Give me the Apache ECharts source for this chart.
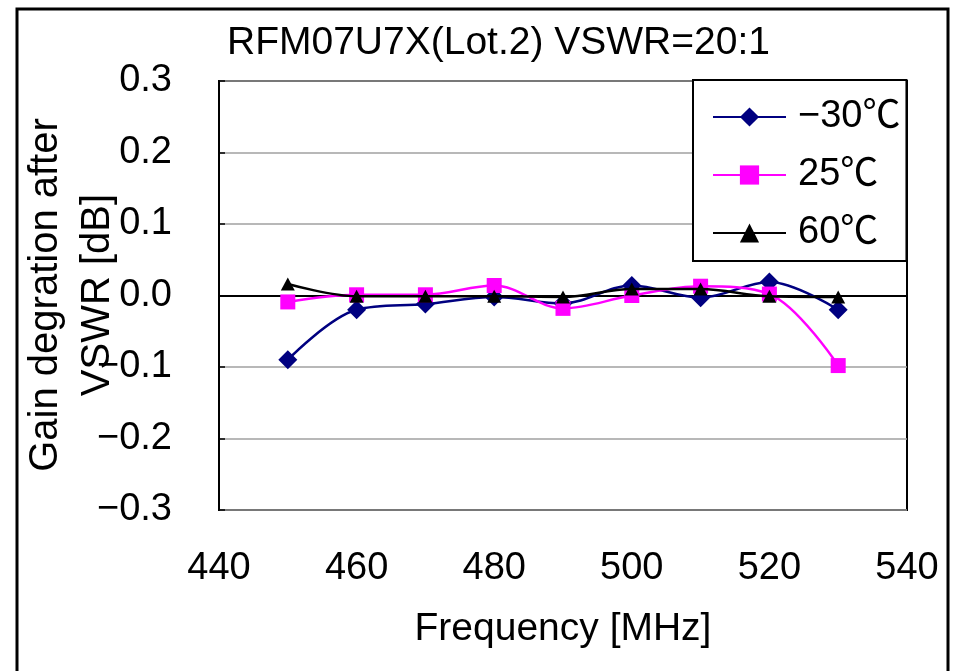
<!DOCTYPE html>
<html><head><meta charset="utf-8">
<script src="https://cdn.jsdelivr.net/npm/echarts@6/dist/echarts.min.js"></script>
<style>html,body{margin:0;padding:0;background:#fff}#c{width:955px;height:671px}</style>
</head><body><div id="c"></div>
<script>
const frequencies = [450, 460, 470, 480, 490, 500, 510, 520, 530];
const minus30C = [-0.09, -0.02, -0.012, -0.002, -0.011, 0.014, -0.003, 0.019, -0.02];
const plus25C = [-0.009, 0.001, 0.001, 0.014, -0.018, 0.0, 0.013, 0.002, -0.098];
const plus60C = [0.016, -0.001, -0.001, -0.001, -0.002, 0.009, 0.009, -0.001, -0.002];
const seriesNames = ['\u221230\u2103', '25\u2103', '60\u2103'];
const titleText = 'RFM07U7X(Lot.2) VSWR=20:1';
const xAxisTitle = 'Frequency [MHz]';
const yAxisTitle = 'Gain degration after\nVSWR [dB]';
const FONT = '"Liberation Sans", "Noto Sans CJK JP", sans-serif';

const pair = arr => frequencies.map((f, i) => [f, arr[i]]);
const chart = echarts.init(document.getElementById('c'), null, {renderer: 'canvas'});
const fmtY = v => { const s = (Math.abs(v) < 1e-9 ? 0 : v).toFixed(1); return s.replace('-', '\u2212'); };

chart.setOption({
  animation: false,
  backgroundColor: '#fff',
  title: {
    text: titleText,
    left: 222, top: 19,
    textStyle: {fontFamily: FONT, fontSize: 39, fontWeight: 'normal', color: '#000'}
  },
  legend: {
    orient: 'vertical', left: 693, top: 80,
    backgroundColor: '#fff', borderColor: '#000', borderWidth: 2,
    padding: [17, 6, 8, 19],
    itemWidth: 73, itemHeight: 24, itemGap: 18,
    textStyle: {fontFamily: FONT, fontSize: 38, color: '#000', lineHeight: 40, padding: [0, 0, 0, 7]},
    data: seriesNames
  },
  grid: {left: 219, right: 48, top: 81, bottom: 161, show: true, borderColor: '#000', borderWidth: 2, backgroundColor: 'transparent'},
  xAxis: {
    type: 'value', min: 440, max: 540, interval: 20,
    name: xAxisTitle, nameLocation: 'middle', nameGap: 100,
    nameTextStyle: {fontFamily: FONT, fontSize: 39, color: '#000'},
    axisLine: {show: true, lineStyle: {color: '#000', width: 2}},
    axisTick: {show: true, inside: true, length: 6, lineStyle: {color: '#000', width: 1.5}},
    axisLabel: {fontFamily: FONT, fontSize: 38, color: '#000', margin: 40},
    splitLine: {show: false}
  },
  yAxis: {
    type: 'value', min: -0.3, max: 0.3, interval: 0.1,
    axisLine: {show: true, lineStyle: {color: '#000', width: 2}},
    axisTick: {show: true, inside: true, length: 6, lineStyle: {color: '#000', width: 1.5}},
    axisLabel: {fontFamily: FONT, fontSize: 38, color: '#000', margin: 47, formatter: fmtY},
    splitLine: {show: true, lineStyle: {color: '#a0a0a0', width: 1.5}}
  },
  graphic: [
    {type: 'rect', shape: {x: 17, y: 9, width: 931, height: 700},
     style: {fill: null, stroke: '#000', lineWidth: 3}, silent: true, z: -1},
    {type: 'text', x: 72, y: 295, rotation: Math.PI / 2, silent: true, z: 1,
     style: {text: yAxisTitle, font: '40px ' + FONT, fill: '#000', align: 'center', verticalAlign: 'middle', lineHeight: 52}}
  ],
  series: [
    {name: seriesNames[0], type: 'line', data: pair(minus30C), smooth: 0.35,
     symbol: 'diamond', symbolSize: [19, 19], color: '#000080',
     lineStyle: {width: 2.5, color: '#000080'}, itemStyle: {color: '#000080'}, z: 2},
    {name: seriesNames[1], type: 'line', data: pair(plus25C), smooth: 0.35,
     symbol: 'rect', symbolSize: 15, color: '#ff00ff',
     lineStyle: {width: 2.5, color: '#ff00ff'}, itemStyle: {color: '#ff00ff'}, z: 3},
    {name: seriesNames[2], type: 'line', data: pair(plus60C), smooth: 0.35,
     symbol: 'triangle', symbolSize: [14, 13], color: '#000',
     lineStyle: {width: 2.5, color: '#000'}, itemStyle: {color: '#000'}, z: 4}
  ]
});
</script>
</body></html>
